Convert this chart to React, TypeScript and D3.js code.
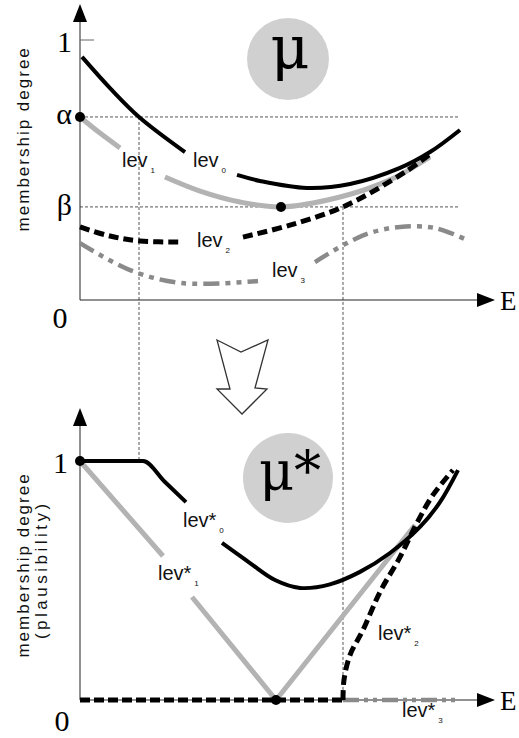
import React from 'react'
import * as d3 from 'd3'

type Pt = [number, number] | null

// E runs 0..1 on both panels, membership degree 0..1
const ALPHA = 0.704
const BETA = 0.358
const E_ALPHA = 0.1475 // lev0 meets alpha
const E_BETA = 0.6575 // lev2 meets beta
const E_MIN1 = 0.5025 // minimum of lev1
const E_ZERO1 = 0.49 // lev*1 touches zero

// upper panel (mu), null = gap left for a label
const lev0: Pt[] = [[0.005, 0.935], [0.075, 0.815], [E_ALPHA, ALPHA], [0.2625, 0.569], null,
  [0.3925, 0.481], [0.45, 0.458], [0.5675, 0.431], [0.675, 0.446], [0.8, 0.508], [0.875, 0.569], [0.95, 0.654]]
const lev1: Pt[] = [[0, ALPHA], [0.05, 0.642], [0.1, 0.585], null,
  [0.2125, 0.473], [0.3, 0.419], [0.4, 0.377], [E_MIN1, BETA], [0.65, 0.396], [0.775, 0.462], [0.875, 0.55]]
const lev2: Pt[] = [[0, 0.281], [0.075, 0.246], [0.15, 0.227], [0.2575, 0.223], null,
  [0.4075, 0.242], [0.525, 0.288], [E_BETA, BETA], [0.8125, 0.492], [0.8825, 0.569]]
const lev3: Pt[] = [[0, 0.219], [0.125, 0.115], [0.255, 0.065], [0.445, 0.073], null,
  [0.5875, 0.146], [0.6625, 0.215], [0.725, 0.258], [0.8, 0.281], [0.8875, 0.277], [0.9675, 0.231]]

// lower panel (mu*)
const lev0StarKnee: Pt[] = [[0, 1], [E_ALPHA + 0.01, 1], [0.2125, 0.912], [0.265, 0.828]]
const lev0StarBowl: Pt[] = [[0.355, 0.657], [0.425, 0.573], [0.4875, 0.502], [0.55, 0.469], [0.625, 0.484],
  [0.7, 0.536], [0.775, 0.615], [0.85, 0.724], [0.9, 0.828], [0.945, 0.962]]
const lev1Star: Pt[] = [[0, 1], [0.2075, 0.6025], null, [0.28, 0.431], [E_ZERO1, 0], [0.8375, 0.732]]
const lev2StarFlat: Pt[] = [[0, 0], [E_BETA, 0]]
const lev2StarRise: Pt[] = [[E_BETA, 0], [0.66, 0.084], [0.675, 0.188], [0.7075, 0.293], [0.75, 0.452],
  [0.8, 0.598], [0.8425, 0.741], [0.8825, 0.858], [0.9325, 0.962]]
const lev3Star: Pt[] = [[E_BETA, 0], [0.95, 0]]

const topTicks = [
  { v: 1, label: '1', dy: 12 },
  { v: ALPHA, label: 'α', dy: 7 },
  { v: BETA, label: 'β', dy: 8 },
]
const topLabels = [
  { e: 0.2825, mu: 0.512, text: 'lev', sub: '0' },
  { e: 0.105, mu: 0.512, text: 'lev', sub: '1' },
  { e: 0.2925, mu: 0.204, text: 'lev', sub: '2' },
  { e: 0.48, mu: 0.088, text: 'lev', sub: '3' },
]
const botLabels = [
  { e: 0.2575, mu: 0.724, text: 'lev*', sub: '0' },
  { e: 0.195, mu: 0.502, text: 'lev*', sub: '1' },
  { e: 0.745, mu: 0.251, text: 'lev*', sub: '2' },
  { e: 0.805, mu: -0.071, text: 'lev*', sub: '3' },
]

const SERIF = '"Liberation Serif", "Times New Roman", serif'
const MU_FONT = '"DejaVu Serif", "Liberation Serif", serif'
const SANS = '"Liberation Sans", Arial, sans-serif'
const GRAY = '#b3b3b3'
const DARKGRAY = '#8a8a8a'

export default function App() {
  const W = 519, H = 738
  const x = d3.scaleLinear().domain([0, 1]).range([80, 480])
  const yTop = d3.scaleLinear().domain([0, 1]).range([300, 40])
  const yBot = d3.scaleLinear().domain([0, 1]).range([700, 461])

  const mk = (y: d3.ScaleLinear<number, number>, curve: d3.CurveFactory) =>
    d3.line<Pt>().defined(d => d !== null).x(d => x(d![0])).y(d => y(d![1])).curve(curve)

  const topLine = mk(yTop, d3.curveCatmullRom.alpha(0.5))
  const botKnee = mk(yBot, d3.curveMonotoneX)
  const botLin = mk(yBot, d3.curveLinear)
  const botSmooth = mk(yBot, d3.curveCatmullRom.alpha(0.5))

  const arrowRight = (tx: number, ty: number) => `${tx},${ty} ${tx - 18},${ty - 7} ${tx - 18},${ty + 7}`
  const arrowUp = (tx: number, ty: number) => `${tx},${ty} ${tx - 7},${ty + 18} ${tx + 7},${ty + 18}`

  const eEnd = x.invert(495)
  const dotted = { stroke: '#555', strokeWidth: 1, strokeDasharray: '3 2', fill: 'none' }

  // big hollow arrow between panels
  const hollow: [number, number][] = [[-25, -37], [-1, -25], [26, -37], [13, 11], [25, 12], [0, 37], [-25, 12], [-12, 12]]
  const hc = [242, 377]

  const label = (l: { e: number; mu: number; text: string; sub: string }, y: d3.ScaleLinear<number, number>, i: number) => (
    <text key={i} x={x(l.e)} y={y(l.mu)} fontFamily={SANS} fontSize={20} fill="#111">
      {l.text}
      <tspan fontSize={8} dx={3} dy={6}>{l.sub}</tspan>
    </text>
  )

  return (
    <svg width={W} height={H} style={{ position: 'absolute', left: 0, top: 0, background: '#fff' }}>
      {/* ---------- upper panel ---------- */}
      <line x1={x(0)} x2={x(0.95)} y1={yTop(ALPHA)} y2={yTop(ALPHA)} {...dotted} />
      <line x1={x(0)} x2={x(0.95)} y1={yTop(BETA)} y2={yTop(BETA)} {...dotted} />
      <line x1={x(E_ALPHA)} x2={x(E_ALPHA)} y1={yTop(ALPHA)} y2={yBot(1)} {...dotted} />
      <line x1={x(E_BETA)} x2={x(E_BETA)} y1={yTop(BETA)} y2={yBot(0)} {...dotted} />

      <line x1={x(0)} x2={x(0)} y1={yTop(0)} y2={22} stroke="#222" strokeWidth={1} />
      <polygon points={arrowUp(x(0), 4)} fill="#000" />
      <line x1={x(0)} x2={x(eEnd) - 17} y1={yTop(0)} y2={yTop(0)} stroke="#222" strokeWidth={1} />
      <polygon points={arrowRight(x(eEnd), yTop(0))} fill="#000" />
      <line x1={x(0)} x2={x(0) + 14} y1={yTop(1)} y2={yTop(1)} stroke="#666" strokeWidth={1} />

      {topTicks.map((t, i) => (
        <text key={i} x={x(0) - 8} y={yTop(t.v) + t.dy} textAnchor="end" fontFamily={SERIF} fontSize={30}>{t.label}</text>
      ))}
      <text x={60} y={yTop(0) + 28} textAnchor="middle" fontFamily={SERIF} fontSize={30}>0</text>
      <text x={500} y={yTop(0) + 10} fontFamily={SERIF} fontSize={27}>E</text>

      <text transform={`translate(29,${yTop(0.62)}) rotate(-90)`} textAnchor="middle" fontFamily={SANS} fontSize={17} letterSpacing={2} fill="#111">membership degree</text>

      <circle cx={288} cy={59} r={41} fill="#d0d0d0" />
      <text x={290} y={69} textAnchor="middle" fontFamily={MU_FONT} fontSize={60}>μ</text>

      <path d={topLine(lev3) || ''} fill="none" stroke={DARKGRAY} strokeWidth={4.5} strokeDasharray="16 6 5 6 5 6" />
      <path d={topLine(lev1) || ''} fill="none" stroke={GRAY} strokeWidth={5} />
      <path d={topLine(lev2) || ''} fill="none" stroke="#000" strokeWidth={5} strokeDasharray="10 5" />
      <path d={topLine(lev0) || ''} fill="none" stroke="#000" strokeWidth={4} />
      <circle cx={x(0)} cy={yTop(ALPHA)} r={5} fill="#000" />
      <circle cx={x(E_MIN1)} cy={yTop(BETA)} r={5} fill="#000" />
      {topLabels.map((l, i) => label(l, yTop, i))}

      {/* ---------- hollow arrow ---------- */}
      <polygon points={hollow.map(p => `${hc[0] + p[0]},${hc[1] + p[1]}`).join(' ')} fill="#fff" stroke="#333" strokeWidth={1.3} />

      {/* ---------- lower panel ---------- */}
      <line x1={x(0)} x2={x(0)} y1={yBot(0)} y2={425} stroke="#222" strokeWidth={1} />
      <polygon points={arrowUp(x(0), 408)} fill="#000" />
      <line x1={x(0)} x2={x(eEnd) - 17} y1={yBot(0)} y2={yBot(0)} stroke="#222" strokeWidth={1} />
      <polygon points={arrowRight(x(eEnd), yBot(0))} fill="#000" />

      <text x={x(0) - 12} y={yBot(1) + 12} textAnchor="end" fontFamily={SERIF} fontSize={30}>1</text>
      <text x={62} y={yBot(0) + 31} textAnchor="middle" fontFamily={SERIF} fontSize={30}>0</text>
      <text x={500} y={yBot(0) + 10} fontFamily={SERIF} fontSize={27}>E</text>

      <text transform={`translate(29,${yBot(0.565)}) rotate(-90)`} textAnchor="middle" fontFamily={SANS} fontSize={17} letterSpacing={2} fill="#111">membership degree</text>
      <text transform={`translate(47,${yBot(0.545)}) rotate(-90)`} textAnchor="middle" fontFamily={SANS} fontSize={17} letterSpacing={3.5} fill="#111">(plausibility)</text>

      <circle cx={288} cy={478} r={45} fill="#d0d0d0" />
      <text x={290} y={490} textAnchor="middle" fontFamily={MU_FONT} fontSize={54}>μ*</text>

      <path d={botLin(lev3Star) || ''} fill="none" stroke={DARKGRAY} strokeWidth={4.5} strokeDasharray="16 5 4 5 4 5" />
      <path d={botLin(lev1Star) || ''} fill="none" stroke={GRAY} strokeWidth={5} />
      <path d={botLin(lev2StarFlat) || ''} fill="none" stroke="#000" strokeWidth={5} strokeDasharray="10 4" />
      <path d={botSmooth(lev2StarRise) || ''} fill="none" stroke="#000" strokeWidth={5} strokeDasharray="10 5" />
      <path d={botKnee(lev0StarKnee) || ''} fill="none" stroke="#000" strokeWidth={4} />
      <path d={botSmooth(lev0StarBowl) || ''} fill="none" stroke="#000" strokeWidth={4} />
      <circle cx={x(0)} cy={yBot(1)} r={5} fill="#000" />
      <circle cx={x(E_ZERO1)} cy={yBot(0)} r={5} fill="#000" />
      {botLabels.map((l, i) => label(l, yBot, i))}
    </svg>
  )
}
